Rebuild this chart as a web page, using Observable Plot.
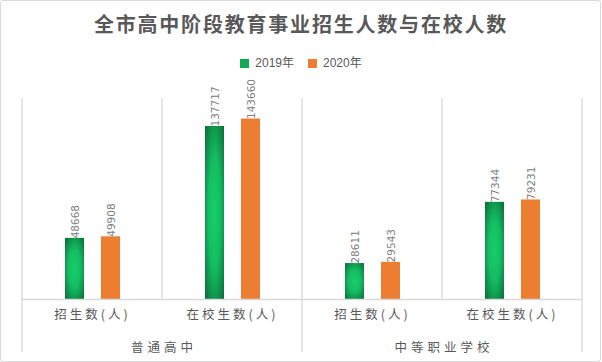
<!DOCTYPE html>
<html><head><meta charset="utf-8">
<script src="https://cdn.jsdelivr.net/npm/d3@7"></script>
<script src="https://cdn.jsdelivr.net/npm/@observablehq/plot@0.6"></script>
<style>
body{margin:0;background:#fff;font-family:"Noto Sans CJK SC","Liberation Sans",sans-serif;}
#wrap{position:relative;width:602px;height:362px;overflow:hidden;}
#frame{position:absolute;left:0px;top:0px;width:601px;height:362px;border:1px solid #d9d9d9;border-radius:3px;box-sizing:border-box;}
#title{position:absolute;top:10px;left:0;width:602px;text-align:center;font-size:20px;font-weight:bold;color:#595959;letter-spacing:1.8px;line-height:28px;white-space:nowrap;}
#legend{position:absolute;top:55px;left:0;width:602px;display:flex;justify-content:center;align-items:center;font-size:12px;color:#595959;line-height:16px;font-family:"Liberation Sans","Noto Sans CJK SC",sans-serif;}
#legend .item{display:flex;align-items:center;margin:0 7px;}
#legend .sw{width:9px;height:9px;margin-right:6px;display:inline-block;}
#chart{position:absolute;top:80px;left:0;}
</style></head>
<body>
<div id="wrap">
  <div id="frame"></div>
  <div id="title">全市高中阶段教育事业招生人数与在校人数</div>
  <div id="legend"></div>
  <div id="chart"></div>
</div>
<script>
const groups = ["普通高中", "中等职业学校"];
const measures = ["招生数(人)", "在校生数(人)"];
const years = ["2019年", "2020年"];
const values2019 = [48668, 137717, 28611, 77344];
const values2020 = [49908, 143660, 29543, 79231];
const yearColors = ["url(#g19)", "#ED7D31"];
const legendColors = ["#13a856", "#ED7D31"];

const keys = [];
groups.forEach(g => measures.forEach(m => keys.push(g + "|" + m)));
const data = [];
keys.forEach((k, i) => {
  data.push({cat: k, year: years[0], value: values2019[i]});
  data.push({cat: k, year: years[1], value: values2020[i]});
});

const legendEl = document.getElementById("legend");
years.forEach((y, i) => {
  const it = document.createElement("span");
  it.className = "item";
  it.innerHTML = `<span class="sw" style="background:${legendColors[i]}"></span>${y}`;
  legendEl.appendChild(it);
});

const font = "'Noto Sans CJK SC','Liberation Sans',sans-serif";
const numFont = "'DejaVu Sans',sans-serif";
const plot = Plot.plot({
  width: 602, height: 282,
  marginTop: 18, marginBottom: 63, marginLeft: 20, marginRight: 19,
  style: {fontFamily: font, background: "transparent"},
  fx: {domain: keys, padding: 0, axis: null},
  x: {domain: years, paddingInner: 0.48, paddingOuter: 1.168, axis: null},
  y: {domain: [0, 160000], axis: null},
  color: {domain: years, range: yearColors},
  marks: [
    Plot.barY(data, {fx: "cat", x: "year", y: "value", fill: "year"}),
    Plot.ruleY([0], {stroke: "#d9d9d9", strokeWidth: 1.3}),
    Plot.text(data, {fx: "cat", x: "year", y: "value", text: d => String(d.value),
      rotate: -90, textAnchor: "start", dx: 1, fill: "#808080", fontSize: 10.5, fontFamily: numFont}),
    Plot.text(keys, {fx: d => d, text: d => d.split("|")[1], frameAnchor: "bottom",
      dy: 19, fill: "#595959", fontSize: 12.5})
  ]
});
document.getElementById("chart").appendChild(plot);

const svg = d3.select(plot);
svg.insert("defs", ":first-child").html(
  `<radialGradient id="g19" cx="0.5" cy="0.5" r="0.7">
     <stop offset="0" stop-color="#18cd6c"/>
     <stop offset="0.45" stop-color="#14bd62"/>
     <stop offset="1" stop-color="#0a6c37"/>
   </radialGradient>`);

// widen spacing of the category labels
svg.selectAll("text").filter(function() { return measures.includes(this.textContent); })
  .style("letter-spacing", "3px");

const fxScale = plot.scale("fx");
const bw = fxScale.bandwidth;
const plotTop = 18, plotBottom = 282 - 63, groupLineEnd = 272;
const grid = svg.append("g").attr("stroke", "#d9d9d9").attr("stroke-width", 1.3);
keys.forEach((k, i) => {
  const x = fxScale.apply(k);
  const isGroupStart = i % measures.length === 0;
  grid.append("line").attr("x1", x).attr("x2", x).attr("y1", plotTop).attr("y2", isGroupStart ? groupLineEnd : plotBottom);
});
const xr = fxScale.apply(keys[keys.length - 1]) + bw;
grid.append("line").attr("x1", xr).attr("x2", xr).attr("y1", plotTop).attr("y2", groupLineEnd);

groups.forEach((gname, gi) => {
  const k0 = keys[gi * measures.length];
  const k1 = keys[gi * measures.length + measures.length - 1];
  const cx = (fxScale.apply(k0) + fxScale.apply(k1) + bw) / 2;
  svg.append("text").attr("x", cx + 2).attr("y", 269)
    .attr("text-anchor", "middle").attr("dominant-baseline", "middle")
    .attr("fill", "#595959").attr("font-size", 12.5)
    .style("letter-spacing", "4px").attr("font-family", font).text(gname);
});
</script>
</body></html>
